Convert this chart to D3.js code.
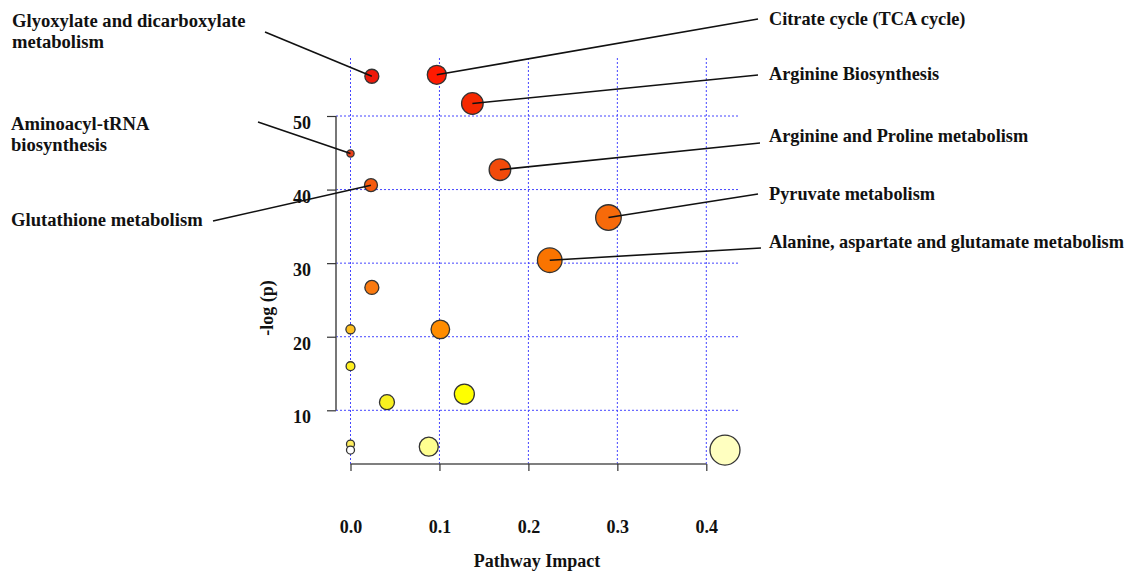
<!DOCTYPE html>
<html>
<head>
<meta charset="utf-8">
<script src="https://cdn.jsdelivr.net/npm/d3@7"></script>
<style>
  body { margin: 0; background: #fff; }
  text { font-family: "Liberation Serif", "Times New Roman", serif; font-weight: bold; fill: #111; }
</style>
</head>
<body>
<svg id="chart" width="1128" height="571"></svg>
<script>
// pathway data
var pathways = ["Glyoxylate and dicarboxylate metabolism", "Citrate cycle (TCA cycle)", "Arginine Biosynthesis",
  "Aminoacyl-tRNA biosynthesis", "Glutathione metabolism", "Arginine and Proline metabolism",
  "Pyruvate metabolism", "Alanine, aspartate and glutamate metabolism",
  null, null, null, null, null, null, null, null, null, null];
var impact = [0.024, 0.097, 0.137, 0.0, 0.023, 0.168, 0.290, 0.224, 0.024, 0.0, 0.101, 0.0, 0.041, 0.128, 0.0, 0.0, 0.088, 0.421];
var logp = [55.4, 55.6, 51.7, 44.9, 40.6, 42.7, 36.2, 30.4, 26.7, 21.0, 21.0, 16.0, 11.1, 12.2, 5.4, 4.6, 5.05, 4.6];
var bubbleSize = [7, 9.5, 10.8, 3.6, 6.5, 10.8, 12.8, 12.3, 7, 4.6, 9.3, 4.4, 7.5, 10, 4, 4, 9.5, 15];
var fills = ["#f01a0a", "#ff1a00", "#f52800", "#e8401a", "#f55a10", "#f24a0a", "#f76a0a", "#fa7400",
  "#fa7a10", "#ffc020", "#ff8c00", "#fff020", "#f8f020", "#ffff00", "#ffee60", "#ffffff", "#ffff90", "#ffffc0"];

var xTicks = [0.0, 0.1, 0.2, 0.3, 0.4];
var yTicks = [10, 20, 30, 40, 50];

var svg = d3.select("#chart");

var x = d3.scaleLinear().domain([0, 0.4]).range([350.5, 706.3]);
var y = d3.scaleLinear().domain([10, 50]).range([410.3, 116]);
var r = d3.scaleLinear().domain([0, d3.max(bubbleSize)]).range([0, 15]);

// grid
var gridTop = 58, gridRight = 740;
svg.append("g").selectAll("line").data(xTicks).join("line")
  .attr("x1", function(d){ return x(d); }).attr("x2", function(d){ return x(d); })
  .attr("y1", gridTop).attr("y2", 464)
  .attr("stroke", "#4545ff").attr("stroke-width", 1).attr("stroke-dasharray", "2,2");
svg.append("g").selectAll("line").data(yTicks).join("line")
  .attr("x1", 336).attr("x2", gridRight)
  .attr("y1", function(d){ return y(d); }).attr("y2", function(d){ return y(d); })
  .attr("stroke", "#4545ff").attr("stroke-width", 1).attr("stroke-dasharray", "2,2");

// axes
var xAxis = svg.append("g").attr("transform", "translate(0,464)")
  .call(d3.axisBottom(x).tickValues(xTicks).tickSize(7).tickFormat(d3.format(".1f")));
xAxis.select(".domain").attr("d", "M" + x(0) + ",0H" + x(0.4)).attr("stroke", "#555").attr("stroke-width", 1.6);
xAxis.selectAll(".tick line").attr("stroke", "#333").attr("stroke-width", 1.2);
xAxis.selectAll(".tick text").attr("y", 56).attr("font-size", 18).attr("fill", "#111")
  .style("font-family", "Liberation Serif").style("font-weight", "bold");

var yAxis = svg.append("g").attr("transform", "translate(336,0)")
  .call(d3.axisLeft(y).tickValues(yTicks).tickSize(9));
yAxis.select(".domain").attr("d", "M0," + y(10) + "V" + y(50)).attr("stroke", "#555").attr("stroke-width", 1.6);
yAxis.selectAll(".tick line").attr("stroke", "#333").attr("stroke-width", 1.2);
yAxis.selectAll(".tick text").attr("x", -25).attr("dy", "0.7em").attr("font-size", 18).attr("fill", "#111")
  .style("font-family", "Liberation Serif").style("font-weight", "bold");

svg.append("text").attr("x", 537).attr("y", 567).attr("text-anchor", "middle")
  .attr("font-size", 18).text("Pathway Impact");
svg.append("text").attr("transform", "translate(273,308) rotate(-90)").attr("text-anchor", "middle")
  .attr("font-size", 18).text("-log (p)");

// bubbles
var points = impact.map(function(d, i){
  return { name: pathways[i], x: d, y: logp[i], s: bubbleSize[i], fill: fills[i] };
});
svg.append("g").selectAll("circle").data(points).join("circle")
  .attr("cx", function(d){ return x(d.x); })
  .attr("cy", function(d){ return y(d.y); })
  .attr("r", function(d){ return r(d.s); })
  .attr("fill", function(d){ return d.fill; })
  .attr("stroke", "#333").attr("stroke-width", 1.3);

// label placement (text start, line start, font size)
var labelLayout = {
  "Glyoxylate and dicarboxylate metabolism": { tx: 12, ty: 27, fs: 18.6, lines: ["Glyoxylate and dicarboxylate", "metabolism"], lx: 265, ly: 32 },
  "Aminoacyl-tRNA biosynthesis": { tx: 11, ty: 130, fs: 18.6, lines: ["Aminoacyl-tRNA", "biosynthesis"], lx: 258, ly: 122 },
  "Glutathione metabolism": { tx: 11, ty: 226, fs: 18.6, lines: ["Glutathione metabolism"], lx: 213, ly: 221 },
  "Citrate cycle (TCA cycle)": { tx: 769, ty: 25, fs: 18.3, lines: ["Citrate cycle (TCA cycle)"], lx: 758, ly: 19 },
  "Arginine Biosynthesis": { tx: 769, ty: 80, fs: 18.3, lines: ["Arginine Biosynthesis"], lx: 758, ly: 75 },
  "Arginine and Proline metabolism": { tx: 769, ty: 142, fs: 18.3, lines: ["Arginine and Proline metabolism"], lx: 760, ly: 143 },
  "Pyruvate metabolism": { tx: 769, ty: 200, fs: 18.3, lines: ["Pyruvate metabolism"], lx: 758, ly: 194 },
  "Alanine, aspartate and glutamate metabolism": { tx: 769, ty: 248, fs: 18.3, lines: ["Alanine, aspartate and glutamate metabolism"], lx: 761, ly: 248 }
};

var labelled = points.filter(function(d){ return d.name; });
svg.append("g").selectAll("line").data(labelled).join("line")
  .attr("x1", function(d){ return labelLayout[d.name].lx; })
  .attr("y1", function(d){ return labelLayout[d.name].ly; })
  .attr("x2", function(d){ return x(d.x); })
  .attr("y2", function(d){ return y(d.y); })
  .attr("stroke", "#111").attr("stroke-width", 1.6);

labelled.forEach(function(d){
  var l = labelLayout[d.name];
  var t = svg.append("text").attr("x", l.tx).attr("y", l.ty).attr("font-size", l.fs);
  l.lines.forEach(function(s, i){
    t.append("tspan").attr("x", l.tx).attr("dy", i === 0 ? 0 : 21).text(s);
  });
});
</script>
</body>
</html>
